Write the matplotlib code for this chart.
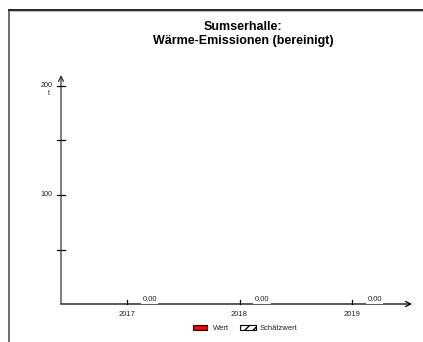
import matplotlib
matplotlib.use("Agg")
import matplotlib.pyplot as plt
from matplotlib.patches import Rectangle
from matplotlib.lines import Line2D

plt.rcParams['font.family'] = ['Liberation Sans', 'DejaVu Sans']

title = "Sumserhalle:\nWärme-Emissionen (bereinigt)"
years = ["2017", "2018", "2019"]
wert = [0.0, 0.0, 0.0]
schaetzwert = [0.0, 0.0, 0.0]
y_major = [100, 200]
y_minor = [50, 150]
unit = "t"
series_names = ["Wert", "Schätzwert"]

W, H = 423, 342
fig = plt.figure(figsize=(W / 100, H / 100), dpi=100)

def fx(px):
    return px / W

def fy(py):
    return 1 - py / H

# outer frame (left and top edges)
fig.add_artist(Line2D([fx(8.5), fx(8.5)], [fy(9.5), 0], color="#555555", lw=1.2))
fig.add_artist(Line2D([fx(8.5), 1], [fy(9.5), fy(9.5)], color="#222222", lw=1.4))
fig.add_artist(Line2D([fx(9.5), 1], [fy(11), fy(11)], color="#bbbbbb", lw=0.8))

# axes
x0, x1 = 61, 412
ybot, ytop = 304, 75
ax = fig.add_axes([fx(x0), fy(ybot), fx(x1 - x0), (ybot - ytop) / H])
ax.set_facecolor("none")
pos = list(range(len(years)))
px_per_cat = 112.5
ax.set_xlim(-(127 - x0) / px_per_cat, (x1 - 127) / px_per_cat)
px_per_unit = (195 - 86) / 100.0
ax.set_ylim(0, (ybot - ytop) / px_per_unit)
for s in ax.spines.values():
    s.set_visible(False)
ax.set_xticks([])
ax.set_yticks([])

# bars (zero height)
ax.bar([p + 0.2 for p in pos], wert, width=0.15, color="red", edgecolor="black", lw=0.6)

# axis lines with arrows
ax.annotate("", xy=(1, 0), xytext=(0, 0), xycoords="axes fraction",
            arrowprops=dict(arrowstyle="->", lw=0.9, color="black",
                            mutation_scale=9, shrinkA=0, shrinkB=0))
ax.annotate("", xy=(0, 1), xytext=(0, 0), xycoords="axes fraction",
            arrowprops=dict(arrowstyle="->", lw=0.9, color="#333333",
                            mutation_scale=9, shrinkA=0, shrinkB=0))

tr = ax.get_xaxis_transform()
ytr = ax.get_yaxis_transform()
# y ticks
tick_px = 4
for v in y_major + y_minor:
    ax.plot([-tick_px / (x1 - x0), tick_px / (x1 - x0)], [v, v], transform=ytr,
            color="black", lw=0.9, clip_on=False)
for v in y_major:
    ax.text(-8 / (x1 - x0), v, str(v), transform=ytr, ha="right", va="center",
            fontsize=5.2, color="#222222")
ax.text(-12 / (x1 - x0), y_major[-1] - 8 / px_per_unit, unit, transform=ytr,
        ha="center", va="center", fontsize=5.2, color="#222222")

# x ticks and labels
for p, yr, v in zip(pos, years, wert):
    ax.plot([p, p], [0, 4 / (ybot - ytop)], transform=tr, color="black", lw=0.9, clip_on=False)
    ax.text(p, -11 / (ybot - ytop), yr, transform=tr, ha="center", va="center",
            fontsize=5.5, color="#222222")
    ax.text(p + 0.2, v + 5 / px_per_unit, f"{v:.2f}".replace(".", ","),
            ha="center", va="center", fontsize=5.5, color="#222222",
            bbox=dict(boxstyle="square,pad=0.2", fc="white", ec="none"), zorder=5)

# title
fig.text(fx(243), fy(34), title, ha="center", va="center", fontsize=9,
         fontweight="bold", linespacing=1.25)

# legend
fig.add_artist(Rectangle((fx(193), fy(330)), fx(14), 5 / H, facecolor="red",
                         edgecolor="black", lw=0.8))
fig.text(fx(213), fy(328), series_names[0], ha="left", va="center", fontsize=5.5, color="#222222")
fig.add_artist(Rectangle((fx(240), fy(330)), fx(16), 5 / H, facecolor="white",
                         edgecolor="black", lw=0.8, hatch="////"))
fig.text(fx(260), fy(328), series_names[1], ha="left", va="center", fontsize=5.5, color="#222222")

fig.savefig("out.png", dpi=100)
